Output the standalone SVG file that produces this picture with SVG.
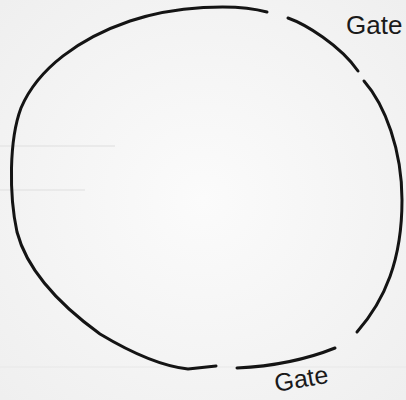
<svg xmlns="http://www.w3.org/2000/svg" width="406" height="400" viewBox="0 0 406 400">
  <style>
    .wall { fill: none; stroke: #141414; stroke-width: 3; stroke-linecap: round; stroke-linejoin: round; }
    .label { font-family: "Liberation Sans", "DejaVu Sans", sans-serif; fill: #1a1a1a; }
    .grid { stroke: #e6e6e6; stroke-width: 1.5; }
  </style>
  <defs>
    <radialGradient id="paper" cx="50%" cy="50%" r="70%">
      <stop offset="0" stop-color="#fbfbfb"/>
      <stop offset="1" stop-color="#efefef"/>
    </radialGradient>
  </defs>
  <rect x="0" y="0" width="406" height="400" fill="url(#paper)"/>
  <g id="paper-lines">
    <line class="grid" x1="0" y1="146" x2="115" y2="146"/>
    <line class="grid" x1="0" y1="190" x2="85" y2="190"/>
    <line class="grid" x1="0" y1="367" x2="406" y2="367" stroke-opacity="0.5"/>
  </g>
  <g id="enclosure">
    <path class="wall" d="M267,12 C235,3 175,6 130,21 C80,38 38,68 21,108 C9,140 9,195 17,232 C27,270 60,305 100,334 C130,352 160,366 188,369 L216,366"/>
    <path class="wall" d="M288,18 C305,24 340,45 358,71"/>
    <path class="wall" d="M364,81 C385,105 402,150 402,200 C402,260 385,300 357,332"/>
    <path class="wall" d="M335,348 C310,358 280,366 237,368"/>
  </g>
  <g id="gate-top">
    <text class="label" x="346" y="34" font-size="26">Gate</text>
  </g>
  <g id="gate-bottom">
    <text class="label" x="276" y="392" font-size="25" transform="rotate(-10 276 392)">Gate</text>
  </g>
</svg>
